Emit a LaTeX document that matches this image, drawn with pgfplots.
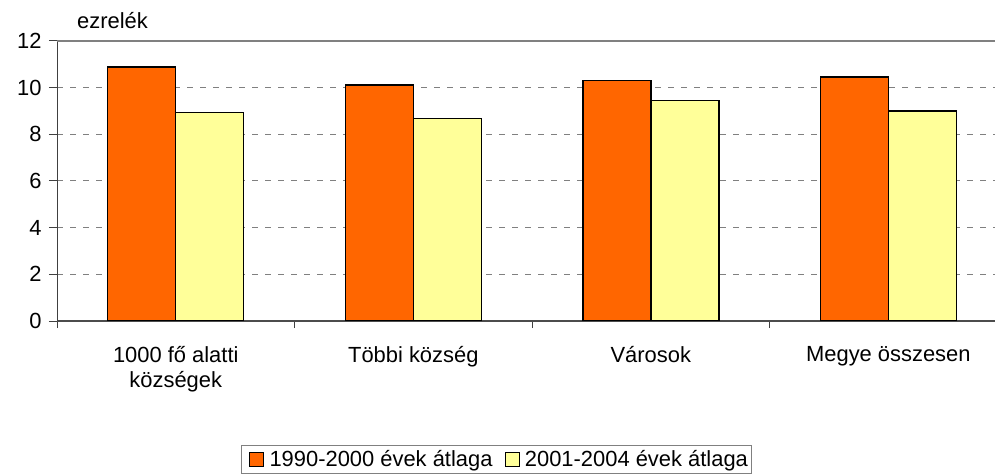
\documentclass[border=0pt]{standalone}
\usepackage{fontspec}
\setmainfont{Liberation Sans}
\usepackage{pgfplots}
\pgfplotsset{compat=1.18}
\definecolor{orangebar}{HTML}{FF6600}
\definecolor{yellowbar}{HTML}{FFFF99}
\definecolor{gridgray}{HTML}{808080}
\begin{document}
\begin{tikzpicture}
\useasboundingbox (0,0) rectangle (995bp,475bp);
\node[anchor=base west, font=\fontsize{22}{26}\selectfont, inner sep=0pt] at (77bp,446bp) {ezrelék};
\begin{axis}[
  at={(57bp,154bp)}, anchor=south west,
  scale only axis, width=938bp, height=280bp,
  xmin=-0.5, xmax=3.449, ymin=0, ymax=12,
  ybar=0pt, bar width=68bp,
  axis x line*=bottom, axis y line*=left,
  x axis line style={draw=black!70, line width=1.2bp, -},
  y axis line style={draw=black!75, line width=1bp, -},
  xtick={0,1,2,3},
  xticklabels={{1000 fő alatti\\községek},{Többi község},{Városok},{Megye összesen}},
  major x tick style={draw=none},
  minor xtick={-0.5,0.5,1.5,2.5},
  minor tick length=7bp,
  minor x tick style={draw=black!75, line width=1bp},
  tick align=outside,
  ytick={0,2,4,6,8,10},
  major tick length=8bp,
  y tick style={draw=black!75, line width=1bp},
  ymajorgrids,
  major grid style={draw=gridgray, line width=1bp, dash pattern=on 6bp off 7bp},
  extra y ticks={12},
  extra y tick style={major grid style={draw=gridgray, line width=1.2bp, solid}},
  /pgf/number format/assume math mode=true,
  tick label style={font=\fontsize{22}{25}\selectfont},
  yticklabel style={anchor=east, xshift=-4bp},
  xticklabel style={align=center, anchor=north, yshift=-14bp},
  legend columns=2,
  legend style={at={(axis description cs:0.4686,-0.546)}, anchor=south,
    draw=gridgray, line width=1bp, font=\fontsize{22}{25}\selectfont,
    inner xsep=2bp, inner ysep=3bp,
    /tikz/every even column/.append style={column sep=4bp}},
  legend image code/.code={\path (-6bp,0) (17bp,0);\draw[#1, line width=1.2bp] (0bp,-7bp) rectangle (14bp,7bp);},
]
\addplot[fill=orangebar, draw=black, line width=1.4bp] coordinates {(0,10.89) (1,10.11) (2,10.30) (3,10.46)};
\addplot[fill=yellowbar, draw=black, line width=1.4bp] coordinates {(0,8.93) (1,8.67) (2,9.44) (3,9.00)};
\legend{1990-2000 évek átlaga, 2001-2004 évek átlaga}
\end{axis}
\end{tikzpicture}
\end{document}
